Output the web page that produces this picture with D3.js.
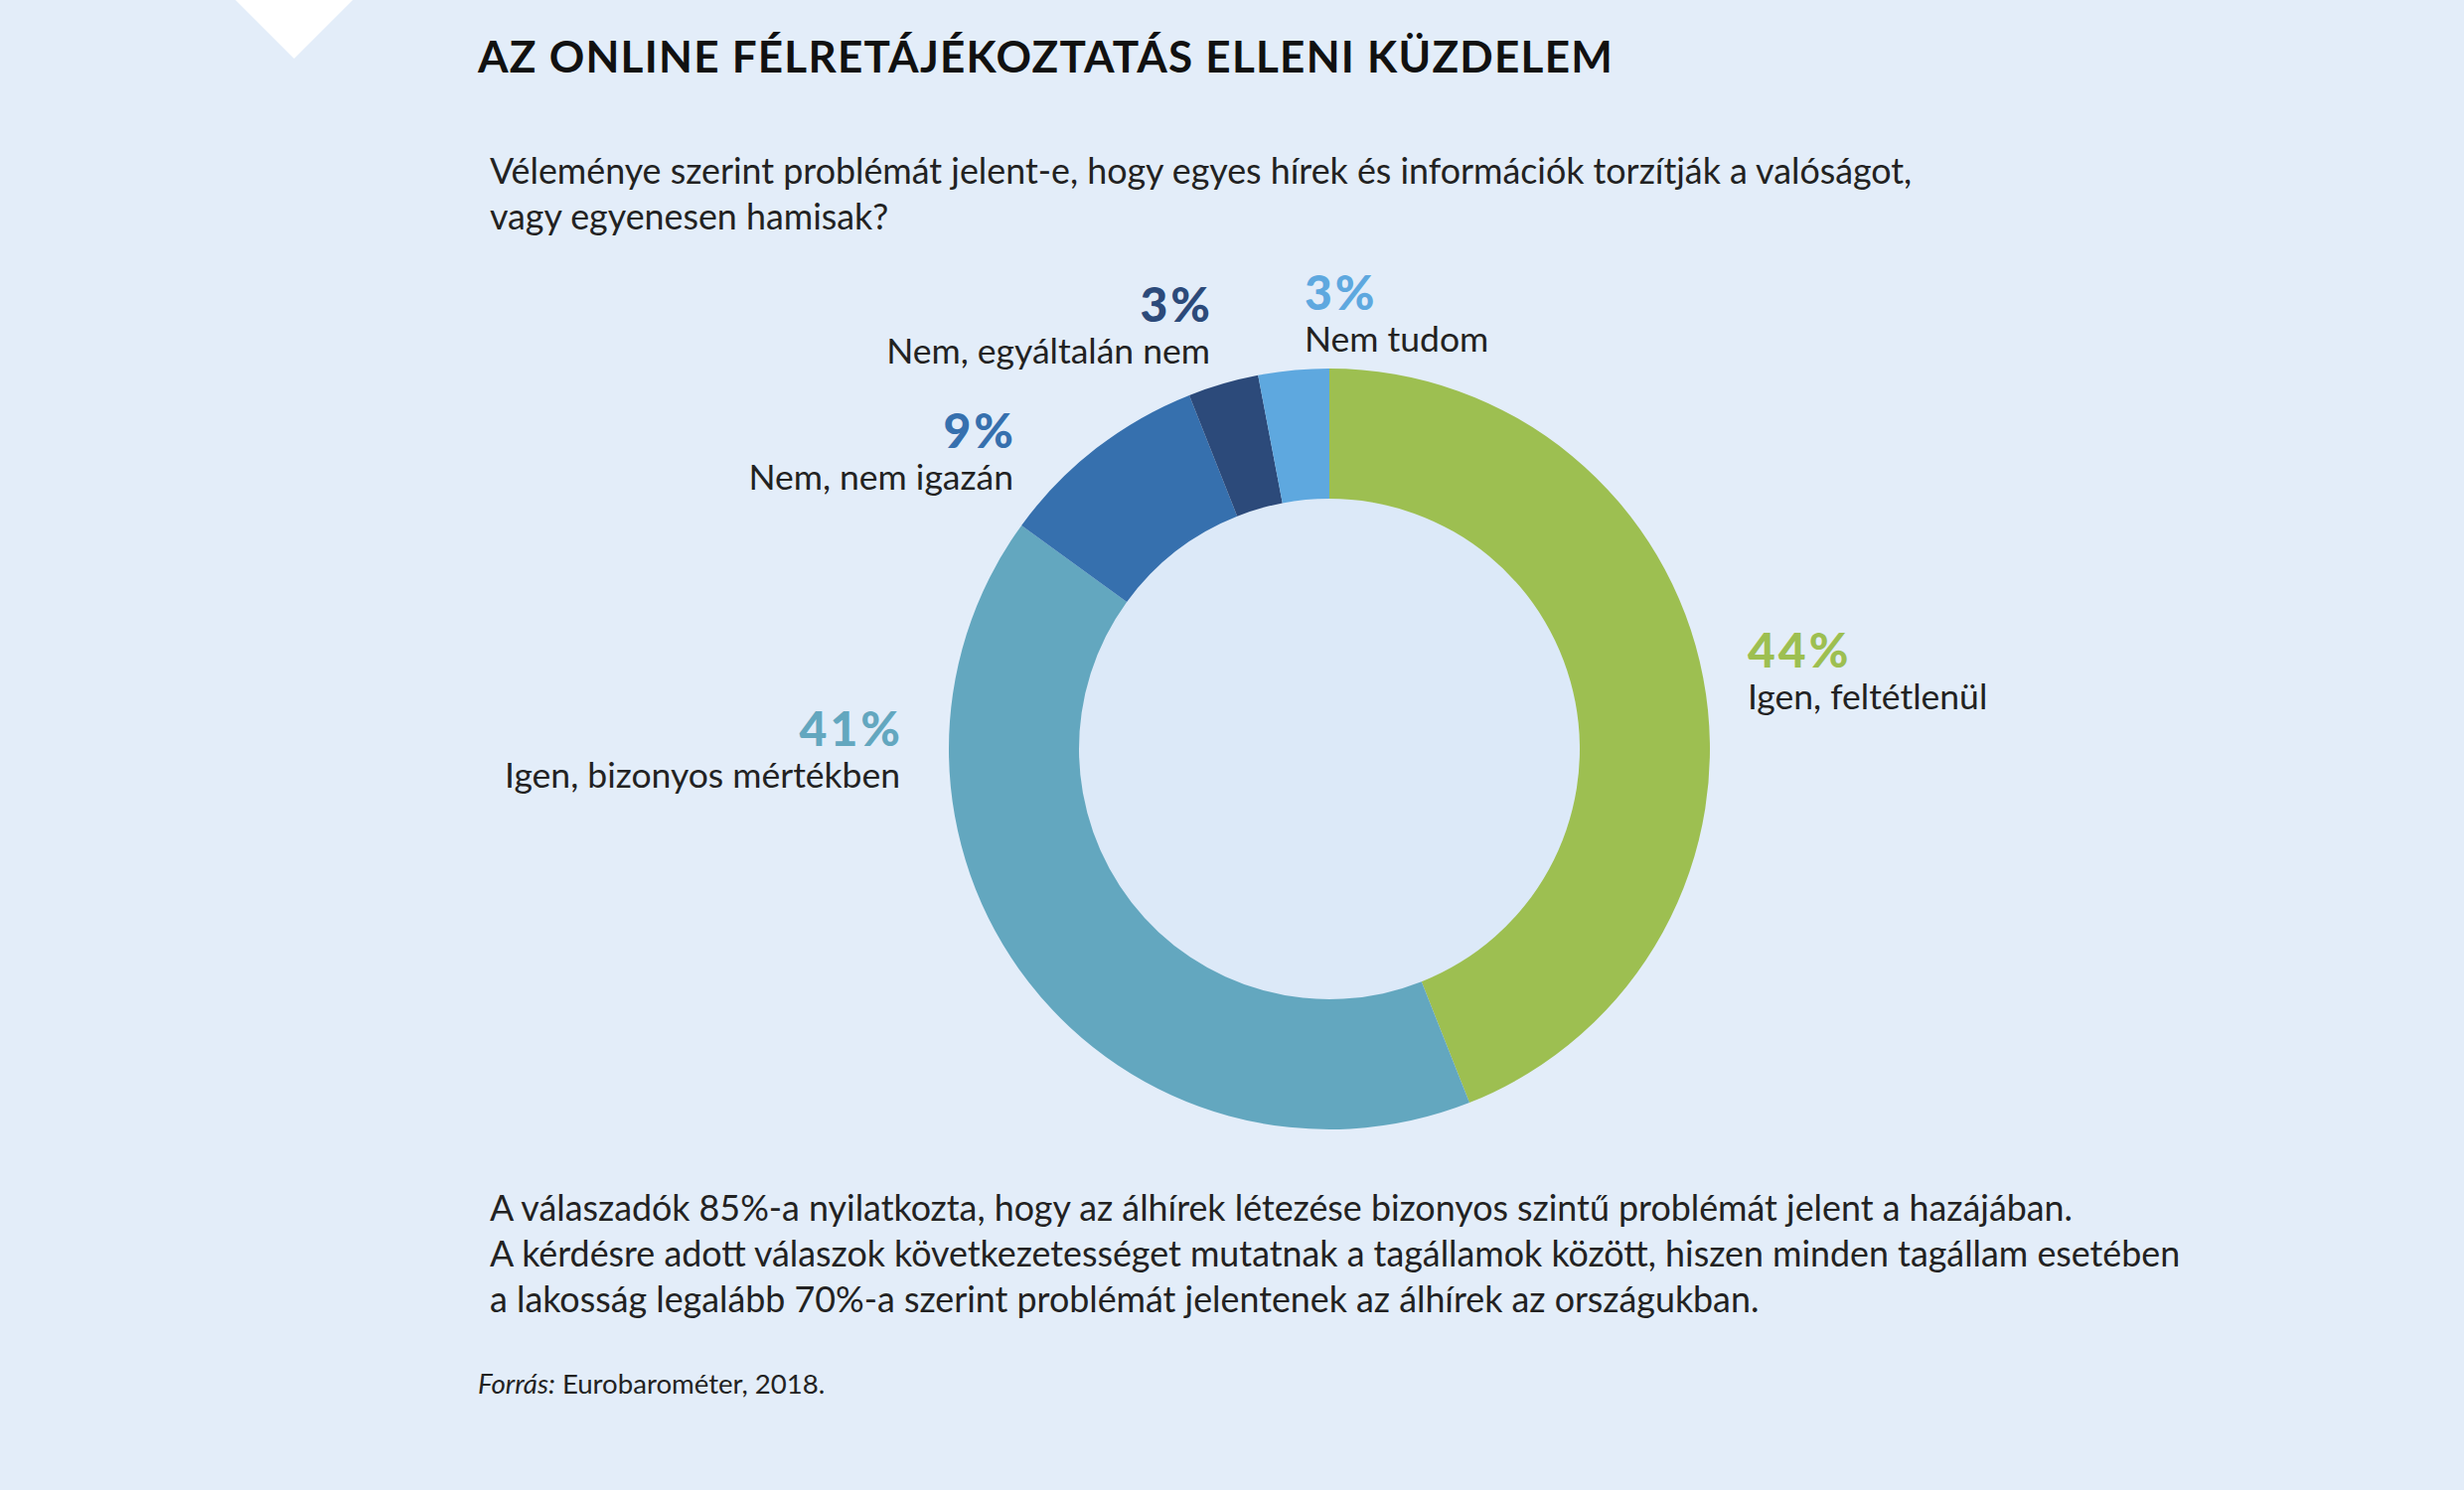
<!DOCTYPE html>
<html>
<head>
<meta charset="utf-8">
<script src="https://cdn.jsdelivr.net/npm/d3@7"></script>
<style>
body { margin: 0; background: #e3edf9; }
svg { display: block; font-family: Lato, "Noto Sans", sans-serif; }
.title { font-weight: 700; font-size: 44px; fill: #111; letter-spacing: 1.25px; }
.body { font-size: 35.8px; fill: #222; }
.pct { font-weight: 900; font-size: 48px; letter-spacing: 3px; }
.lab { font-size: 35.5px; fill: #222; }
.src { font-size: 27.6px; fill: #222; }
</style>
</head>
<body>
<svg id="chart" width="2480" height="1500"></svg>
<script>

/// Data
var categories = ["Igen, feltétlenül", "Igen, bizonyos mértékben", "Nem, nem igazán", "Nem, egyáltalán nem", "Nem tudom"];
var values = [44, 41, 9, 3, 3];
var colors = ["#9dbf51", "#63a7bf", "#3670ae", "#2c4a7a", "#5ea8df"];

var titleText = "AZ ONLINE FÉLRETÁJÉKOZTATÁS ELLENI KÜZDELEM";
var questionLines = [
  "Véleménye szerint problémát jelent-e, hogy egyes hírek és információk torzítják a valóságot,",
  "vagy egyenesen hamisak?"
];
var noteLines = [
  "A válaszadók 85%-a nyilatkozta, hogy az álhírek létezése bizonyos szintű problémát jelent a hazájában.",
  "A kérdésre adott válaszok következetességet mutatnak a tagállamok között, hiszen minden tagállam esetében",
  "a lakosság legalább 70%-a szerint problémát jelentenek az álhírek az országukban."
];

/// Label placement, relative to the donut centre
var labelPos = [
  {dx: 421, dy: -82, anchor: "start"},
  {dx: -432, dy: -3, anchor: "end"},
  {dx: -318, dy: -303, anchor: "end"},
  {dx: -120, dy: -430, anchor: "end"},
  {dx: -25, dy: -442, anchor: "start"}
];

var svg = d3.select("#chart");
var cx = 1338, cy = 754, rOuter = 383, rInner = 252;

/// corner triangle
svg.append("path")
    .attr("d", "M237,0 L355,0 L296,59 Z")
    .attr("fill", "#ffffff");

svg.append("text").attr("class", "title")
    .attr("x", 481).attr("y", 73)
    .text(titleText);

svg.append("g").selectAll("text")
  .data(questionLines)
  .join("text")
    .attr("class", "body")
    .attr("x", 493)
    .attr("y", function(d, i) { return 185 + i * 46; })
    .text(function(d) { return d; });

/// Donut
var pie = d3.pie().sort(null).value(function(d) { return d; });
var arc = d3.arc().innerRadius(rInner).outerRadius(rOuter);

var g = svg.append("g").attr("transform", "translate(" + cx + "," + cy + ")");

g.append("circle").attr("r", rInner).attr("fill", "#dce9f8");

g.selectAll("path.slice")
  .data(pie(values))
  .join("path")
    .attr("class", "slice")
    .attr("d", arc)
    .attr("fill", function(d, i) { return colors[i]; });

var labels = g.selectAll("g.label")
  .data(values)
  .join("g")
    .attr("class", "label")
    .attr("transform", function(d, i) { return "translate(" + labelPos[i].dx + "," + labelPos[i].dy + ")"; });

labels.append("text")
    .attr("class", "pct")
    .attr("x", function(d, i) { return labelPos[i].anchor === "end" ? 3 : 0; })
    .attr("text-anchor", function(d, i) { return labelPos[i].anchor; })
    .attr("fill", function(d, i) { return colors[i]; })
    .text(function(d) { return d + "%"; });

labels.append("text")
    .attr("class", "lab")
    .attr("y", 42)
    .attr("text-anchor", function(d, i) { return labelPos[i].anchor; })
    .text(function(d, i) { return categories[i]; });

/// Notes
svg.append("g").selectAll("text")
  .data(noteLines)
  .join("text")
    .attr("class", "body")
    .attr("x", 493)
    .attr("y", function(d, i) { return 1229 + i * 46; })
    .text(function(d) { return d; });

var src = svg.append("text").attr("class", "src").attr("x", 481).attr("y", 1403);
src.append("tspan").attr("font-style", "italic").text("Forrás:");
src.append("tspan").text(" Eurobarométer, 2018.");

</script>
</body>
</html>
